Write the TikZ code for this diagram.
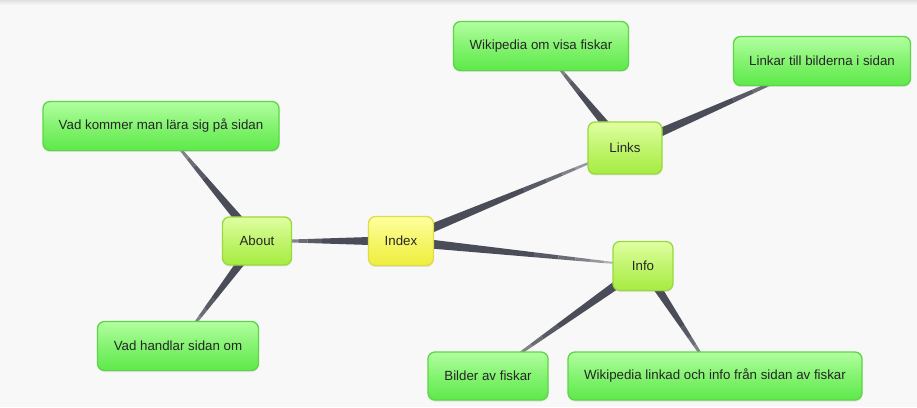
\documentclass[tikz,border=0pt]{standalone}
\usepackage{fontspec}
\setmainfont{Liberation Sans}
\usetikzlibrary{calc,backgrounds,shadows}
\definecolor{bgc}{HTML}{F8F8F8}
\definecolor{conncol}{HTML}{4A4D58}
\definecolor{txt}{HTML}{262626}
\definecolor{gTop}{HTML}{B2FFA0}
\definecolor{gBot}{HTML}{5EE94A}
\definecolor{gBrd}{HTML}{5CD646}
\definecolor{lTop}{HTML}{E0FFA2}
\definecolor{lBot}{HTML}{A6EC42}
\definecolor{lBrd}{HTML}{9AD93E}
\definecolor{yTop}{HTML}{FFFFA0}
\definecolor{yBot}{HTML}{EEEE3E}
\definecolor{yBrd}{HTML}{DCDC4C}
% tapered connector, thick at #1, thin and fading at #2
\newcommand\taper[2]{%
  \foreach \ta/\tb/\pc in {0/0.55/100,0.55/0.65/92,0.65/0.72/82,0.72/0.78/70,0.78/0.84/58,0.84/1/45}{%
    \pgfmathsetmacro\wa{5*(1-\ta)+0.4*\ta}%
    \pgfmathsetmacro\wb{5*(1-\tb)+0.4*\tb}%
    \fill[conncol!\pc!white]
      ($($(#1)!\ta!(#2)$)!\wa pt!90:(#2)$) --
      ($($(#1)!\tb!(#2)$)!\wb pt!90:(#2)$) --
      ($($(#1)!\tb!(#2)$)!\wb pt!-90:(#2)$) --
      ($($(#1)!\ta!(#2)$)!\wa pt!-90:(#2)$) -- cycle;
  }%
}
\tikzset{
  box/.style={rounded corners=7pt, line width=1.3pt, text=txt, inner sep=0pt,
    font=\fontsize{13.3}{15}\selectfont,
    drop shadow={opacity=0.18, shadow xshift=0pt, shadow yshift=-1.5pt}},
  leaf/.style={box, draw=gBrd, top color=gTop, bottom color=gBot, middle color=gTop!45!gBot},
  mid/.style={box, draw=lBrd, top color=lTop, bottom color=lBot, middle color=lTop!45!lBot},
  root/.style={box, draw=yBrd, top color=yTop, bottom color=yBot, middle color=yTop!45!yBot},
}
\begin{document}
\begin{tikzpicture}[x=1pt,y=1pt]
\useasboundingbox (0,0) rectangle (917,407);
\begin{scope}[on background layer]
\fill[bgc] (0,0) rectangle (917,407);
\shade[top color=black!12, bottom color=bgc] (0,402) rectangle (917,407);
\end{scope}
\node[leaf, minimum width=175, minimum height=49] (wom) at (541,361) {Wikipedia om visa fiskar};
\node[leaf, minimum width=177, minimum height=49] (lnk) at (822,346) {Linkar till bilderna i sidan};
\node[leaf, minimum width=236, minimum height=49] (vkm) at (161,281) {Vad kommer man lära sig på sidan};
\node[mid, minimum width=74, minimum height=52] (links) at (625,259) {Links};
\node[mid, minimum width=69, minimum height=48] (about) at (257,166) {About};
\node[root, minimum width=65, minimum height=49] (index) at (401,166) {Index};
\node[mid, minimum width=60, minimum height=49] (info) at (643,141) {Info};
\node[leaf, minimum width=161, minimum height=49] (vhs) at (178,61) {Vad handlar sidan om};
\node[leaf, minimum width=120, minimum height=48] (bilder) at (488,31) {Bilder av fiskar};
\node[leaf, minimum width=294, minimum height=48] (wlink) at (715,31) {Wikipedia linkad och info från sidan av fiskar};
\begin{scope}[on background layer]
\taper{index}{about}
\taper{index}{links}
\taper{index}{info}
\taper{about}{vkm}
\taper{about}{vhs}
\taper{links}{wom}
\taper{links}{lnk}
\taper{info}{bilder}
\taper{info}{wlink}
\end{scope}
\end{tikzpicture}
\end{document}
